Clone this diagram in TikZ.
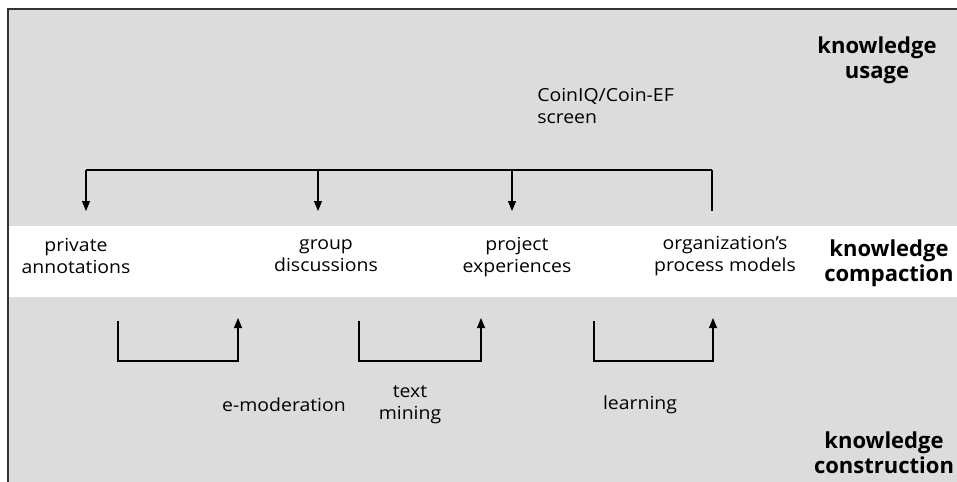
\documentclass[tikz,border=0pt]{standalone}
\usepackage{fontspec}
\setmainfont{Open Sans}[FakeStretch=1.08]
\newfontfamily\layerfont{Open Sans}
\usetikzlibrary{arrows.meta}
\definecolor{bandgray}{HTML}{DCDCDC}
\tikzset{
  lbl/.style={align=center, font=\fontsize{13.5}{16.5}\selectfont, inner sep=0pt},
  lbll/.style={align=left, font=\fontsize{13.5}{16.5}\selectfont, inner sep=0pt},
  layer/.style={align=center, font=\layerfont\bfseries\fontsize{16.5}{19}\selectfont, inner sep=0pt},
  arr/.style={-{Triangle[width=6pt,length=7.5pt]}, line width=0.8pt},
  wire/.style={line width=0.8pt},
}
\begin{document}
\begin{tikzpicture}[x=0.75pt, y=-0.75pt]
  \useasboundingbox (0,0) rectangle (957,482);
  % bands
  \fill[bandgray] (8,9) rectangle (957,226);
  \fill[white] (8,226) rectangle (957,297);
  \fill[bandgray] (8,297) rectangle (957,482);
  \draw[line width=1pt, black!80] (8,482) -- (8,9) -- (957,9);

  % layer titles
  \node[layer] (usage) at (877,60) {knowledge\\usage};
  \node[layer] (compaction) at (889,263) {knowledge\\compaction};
  \node[layer] (construction) at (884,453) {knowledge\\construction};

  % top: screen feeding the four compaction items
  \node[lbll, anchor=west] (screen) at (537,106) {CoinIQ/Coin-EF\\screen};
  \coordinate (b1) at (86,170);
  \coordinate (b2) at (318,170);
  \coordinate (b3) at (512,170);
  \coordinate (b4) at (712,170);
  \coordinate (e1) at (86,211);
  \coordinate (e2) at (318,211);
  \coordinate (e3) at (512,211);
  \coordinate (e4) at (712,211);
  \draw[wire] (b1) -- (b4);
  \draw[arr] (b1) -- (e1);
  \draw[arr] (b2) -- (e2);
  \draw[arr] (b3) -- (e3);
  \draw[wire] (b4) -- (e4);

  % compaction items
  \node[lbl] (priv) at (76,256) {private\\annotations};
  \node[lbl] (group) at (326,256) {group\\discussions};
  \node[lbl] (proj) at (517,257) {project\\experiences};
  \node[lbl] (org) at (725,256) {organization’s\\process models};

  % construction steps
  \coordinate (s1a) at (118,321);
  \coordinate (s1b) at (118,361);
  \coordinate (s1c) at (238,361);
  \coordinate (s1d) at (238,318);
  \draw[arr] (s1a) -- (s1b) -- (s1c) -- (s1d);
  \coordinate (s2a) at (359,321);
  \coordinate (s2b) at (359,361);
  \coordinate (s2c) at (481,361);
  \coordinate (s2d) at (481,318);
  \draw[arr] (s2a) -- (s2b) -- (s2c) -- (s2d);
  \coordinate (s3a) at (594,321);
  \coordinate (s3b) at (594,361);
  \coordinate (s3c) at (713,361);
  \coordinate (s3d) at (713,318);
  \draw[arr] (s3a) -- (s3b) -- (s3c) -- (s3d);

  \node[lbl] (emod) at (284,405) {e-moderation};
  \node[lbl] (tmine) at (410,405) {text\\mining};
  \node[lbl] (learn) at (640,405) {learning};
\end{tikzpicture}
\end{document}
